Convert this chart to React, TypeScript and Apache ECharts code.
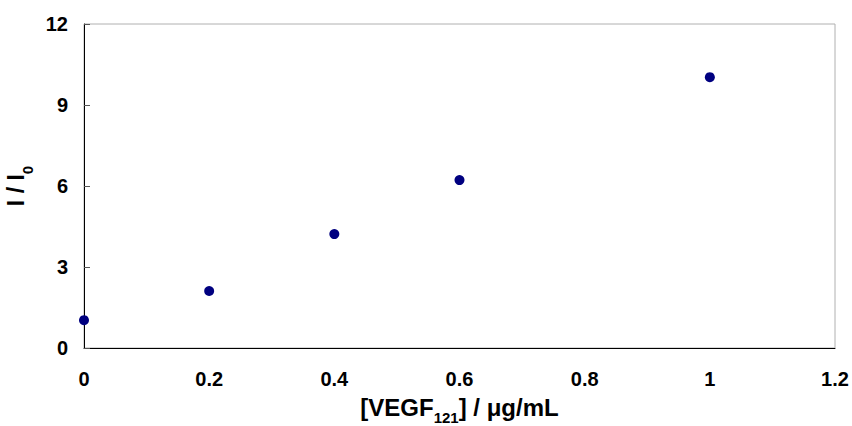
import React, { useEffect, useRef } from "react";
import * as echarts from "echarts";

const xValues = [0, 0.2, 0.4, 0.6, 1.0];
const yValues = [1.03, 2.11, 4.22, 6.22, 10.03];
const xTicks = { min: 0, max: 1.2, interval: 0.2 };
const yTicks = { min: 0, max: 12, interval: 3 };

const FONT = "'Liberation Sans', Arial, sans-serif";

export default function App() {
  const ref = useRef<HTMLDivElement>(null);
  useEffect(() => {
    const chart = echarts.init(ref.current!, null, { renderer: "svg" });
    const xRich = {
      a: { fontFamily: FONT, fontWeight: "bold", fontSize: 24, color: "#000", verticalAlign: "bottom", padding: [0, 0, 6, 0] },
      s: { fontFamily: FONT, fontWeight: "bold", fontSize: 15, color: "#000", verticalAlign: "bottom" },
    };
    const yRich = {
      a: { fontFamily: FONT, fontWeight: "bold", fontSize: 23, color: "#000", verticalAlign: "bottom", padding: [0, 0, 7, 0] },
      s: { fontFamily: FONT, fontWeight: "bold", fontSize: 15, color: "#000", verticalAlign: "bottom" },
    };
    chart.setOption({
      animation: false,
      backgroundColor: "#ffffff",
      grid: {
        left: 84,
        right: 17,
        top: 24,
        bottom: 78,
        show: true,
        borderColor: "#b0b0b0",
        borderWidth: 1,
        outerBoundsMode: "none",
        containLabel: false,
      },
      xAxis: {
        type: "value",
        min: xTicks.min,
        max: xTicks.max,
        interval: xTicks.interval,
        splitLine: { show: false },
        axisLine: { show: true, onZero: false, lineStyle: { color: "#000", width: 1 } },
        axisTick: { show: false },
        axisLabel: {
          margin: 21,
          fontFamily: FONT,
          fontWeight: "bold",
          fontSize: 20,
          color: "#000",
          formatter: (v: number) => String(Math.round(v * 10) / 10),
        },
        name: "{a|[VEGF}{s|121}{a|] / μg/mL}",
        nameLocation: "middle",
        nameGap: 47,
        nameTextStyle: { rich: xRich },
      },
      yAxis: {
        type: "value",
        min: yTicks.min,
        max: yTicks.max,
        interval: yTicks.interval,
        splitLine: { show: false },
        axisLine: { show: true, onZero: false, lineStyle: { color: "#000", width: 1 } },
        axisTick: { show: true, inside: true, length: 6, lineStyle: { color: "#555" } },
        axisLabel: {
          margin: 16,
          fontFamily: FONT,
          fontWeight: "bold",
          fontSize: 20,
          color: "#000",
        },
        name: "{a|I / I}{s|0}",
        nameLocation: "middle",
        nameGap: 46,
        nameRotate: 90,
        nameTextStyle: { rich: yRich },
      },
      series: [
        {
          type: "scatter",
          data: xValues.map((x, i) => [x, yValues[i]]),
          symbol: "circle",
          symbolSize: 10,
          itemStyle: { color: "#000080", opacity: 1 },
        },
      ],
    });
    return () => chart.dispose();
  }, []);
  return (
    <div
      ref={ref}
      style={{ position: "fixed", left: 0, top: 0, width: 852, height: 426, background: "#fff" }}
    />
  );
}
